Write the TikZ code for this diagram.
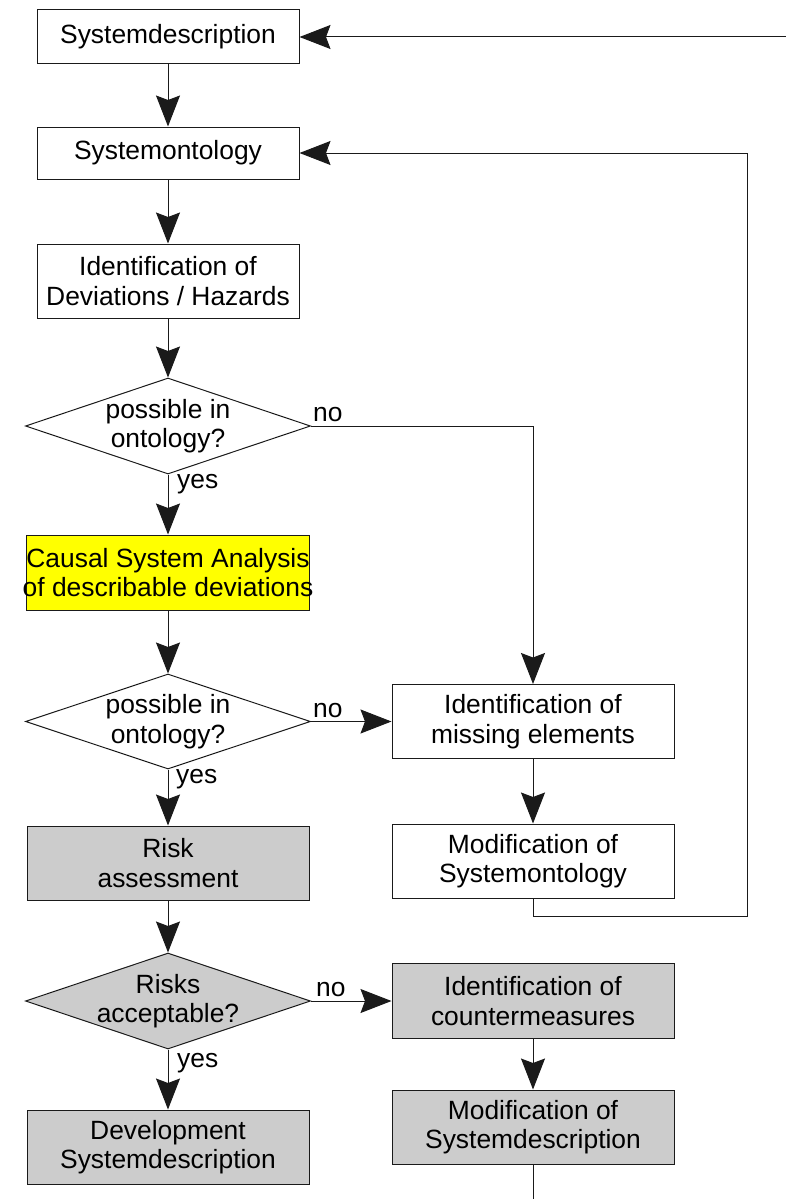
\documentclass[tikz,border=0pt]{standalone}
\usepackage{fontspec}
\setmainfont{Liberation Sans}
\usetikzlibrary{arrows.meta,shapes.geometric}

\definecolor{riskgray}{HTML}{CCCCCC}
\definecolor{hilite}{HTML}{FFFF00}
\definecolor{edge}{HTML}{1A1A1A}

\tikzset{
  txt/.style={font=\fontsize{26.4}{29.5}\selectfont, align=center},
  stepbox/.style={draw=edge, line width=1pt, inner sep=0pt, txt},
  decision/.style={diamond, draw=edge, line width=1pt, inner sep=0pt},
  lbl/.style={font=\fontsize{26.4}{29.5}\selectfont, inner sep=0pt, anchor=base west},
  flow/.style={draw=edge, line width=1pt,
    -{Stealth[length=31pt, width=24pt, inset=4.5pt]}},
  plain/.style={draw=edge, line width=1pt}
}

\begin{document}
\begin{tikzpicture}[x=1pt, y=-1pt]
\useasboundingbox (0,0) rectangle (786,1199);
\fill[white] (0,0) rectangle (786,1199);

% left column
\node[stepbox, minimum width=262pt, minimum height=54pt] (sdesc) at (168,37) {Systemdescription};
\node[stepbox, minimum width=262pt, minimum height=52pt] (sonto) at (168,153) {Systemontology};
\node[stepbox, minimum width=262pt, minimum height=74pt] (ident) at (168,281) {Identification of\\Deviations / Hazards};
\node[decision, minimum width=285pt, minimum height=96pt,
      label={[txt]center:possible in\\ontology?}] (q1) at (168,426) {};
\node[stepbox, fill=hilite, minimum width=283pt, minimum height=75pt,
      label={[txt]center:Causal System Analysis\\of describable deviations}] (causal) at (168,572.5) {};
\node[decision, minimum width=285pt, minimum height=95pt,
      label={[txt]center:possible in\\ontology?}] (q2) at (168,721.5) {};
\node[stepbox, fill=riskgray, minimum width=282pt, minimum height=74pt] (risk) at (168,863) {Risk\\assessment};
\node[decision, fill=riskgray, minimum width=285pt, minimum height=96pt,
      label={[txt]center:Risks\\acceptable?}] (q3) at (168,1001) {};
\node[stepbox, fill=riskgray, minimum width=282pt, minimum height=74pt] (devel) at (168,1147) {Development\\Systemdescription};

% right column
\node[stepbox, minimum width=282pt, minimum height=74pt] (miss) at (533,721.5) {Identification of\\missing elements};
\node[stepbox, minimum width=282pt, minimum height=74pt] (modso) at (533,861) {Modification of\\Systemontology};
\node[stepbox, fill=riskgray, minimum width=282pt, minimum height=75pt] (counter) at (533,1001) {Identification of\\countermeasures};
\node[stepbox, fill=riskgray, minimum width=282pt, minimum height=74pt] (modsd) at (533,1127) {Modification of\\Systemdescription};

% loose ends and corners
\coordinate (topin) at (786,37);
\coordinate (botout) at (533,1199);
\coordinate (fbcorner) at (747,916);

% main flow
\draw[flow] (sdesc) -- (sonto);
\draw[flow] (sonto) -- (ident);
\draw[flow] (ident) -- (q1.north);
\draw[flow] (q1.south) -- (causal);
\draw[flow] (causal) -- (q2.north);
\draw[flow] (q2.south) -- (risk);
\draw[flow] (risk) -- (q3.north);
\draw[flow] (q3.south) -- (devel);

% branches
\draw[flow] (q1.east) -| (miss.north);
\draw[flow] (q2.east) -- (miss.west);
\draw[flow] (miss) -- (modso);
\draw[flow] (modso.south) |- (fbcorner) |- (sonto.east);
\draw[flow] (q3.east) -- (counter.west);
\draw[flow] (counter) -- (modsd);
\draw[plain] (modsd.south) -- (botout);
\draw[flow] (topin) -- (sdesc.east);

% branch labels
\node[lbl] (no1) at ([xshift=2pt, yshift=5pt]q1.east) {no};
\node[lbl] (yes1) at ([xshift=9pt, yshift=-14pt]q1.south) {yes};
\node[lbl] (no2) at ([xshift=2pt, yshift=4.5pt]q2.east) {no};
\node[lbl] (yes2) at ([xshift=8pt, yshift=-14pt]q2.south) {yes};
\node[lbl] (no3) at ([xshift=5pt, yshift=5pt]q3.east) {no};
\node[lbl] (yes3) at ([xshift=9pt, yshift=-18pt]q3.south) {yes};
\end{tikzpicture}
\end{document}
